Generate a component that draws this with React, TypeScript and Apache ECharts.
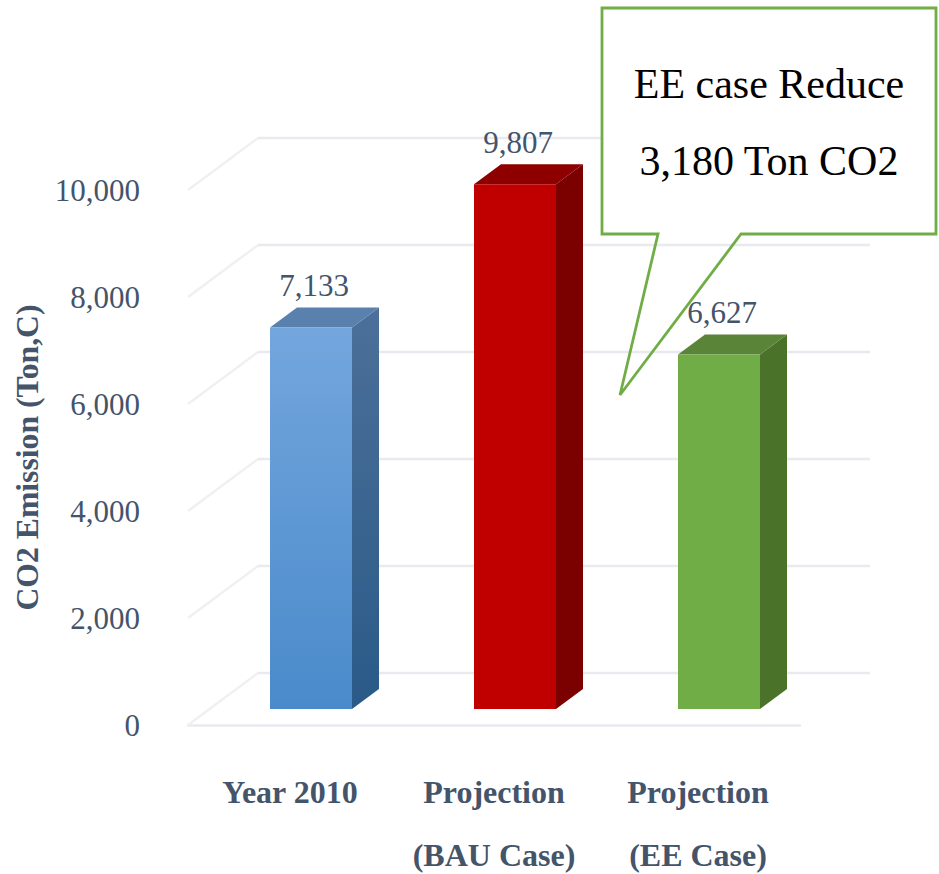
import React, { useEffect, useRef } from "react";
import * as echarts from "echarts";

const categories = ["Year 2010", "Projection\n(BAU Case)", "Projection\n(EE Case)"];
const values = [7133, 9807, 6627];
const ticks = [0, 2000, 4000, 6000, 8000, 10000];
const calloutLines = ["EE case Reduce", "3,180 Ton CO2"];
const yAxisTitle = "CO2 Emission (Ton,C)";

const SERIF = "'Liberation Serif', 'Times New Roman', serif";
const INK = "#44546A";
const GRID_LINE = "#E9EAF0";
const GRID_SLANT = "#F0F0F3";

const palettes = [
  { front: ["#73A6DD", "#4A8ACB"], side: ["#4C7099", "#2A5A88"], top: "#5A80AD" },
  { front: ["#C00000", "#C00000"], side: ["#7B0000", "#7B0000"], top: "#8E0000" },
  { front: ["#70AD47", "#70AD47"], side: ["#4A7329", "#4A7329"], top: "#5A8437" },
];

const wallDx = 70;
const wallDy = -52;
const barInsetDx = 21;
const barInsetDy = -16;
const barDepthDx = 27;
const barDepthDy = -20;
const barWidth = 82;

const vGrad = (c: string[]) =>
  new echarts.graphic.LinearGradient(0, 0, 0, 1, [
    { offset: 0, color: c[0] },
    { offset: 1, color: c[1] },
  ]);

const labelStyle = (lineHeight: number) => ({
  color: INK,
  fontFamily: SERIF,
  fontWeight: "bold" as const,
  fontSize: 32,
  lineHeight,
});

export default function App() {
  const ref = useRef<HTMLDivElement>(null);
  useEffect(() => {
    const chart = echarts.init(ref.current!, undefined, { renderer: "svg" });
    chart.setOption({
      animation: false,
      backgroundColor: "#ffffff",
      grid: { left: 188, width: 612, top: 190, height: 535, containLabel: false, outerBoundsMode: "none" },
      xAxis: {
        type: "category",
        data: categories,
        axisLine: { show: true, lineStyle: { color: GRID_LINE, width: 2.5 } },
        axisTick: { show: false },
        axisLabel: {
          margin: 19,
          verticalAlign: "top",
          interval: 0,
          formatter: (v: string) => {
            const [a, b] = v.split("\n");
            return b ? `{a|${a}}\n{b|${b}}` : `{a|${a}}`;
          },
          rich: { a: labelStyle(96), b: labelStyle(30) },
        },
      },
      yAxis: {
        type: "value",
        min: 0,
        max: 10000,
        interval: 2000,
        name: yAxisTitle,
        nameLocation: "middle",
        nameGap: 139,
        nameTextStyle: { color: INK, fontFamily: SERIF, fontWeight: "bold", fontSize: 31.7 },
        axisLine: { show: false },
        axisTick: { show: false },
        splitLine: { show: false },
        axisLabel: {
          color: INK,
          fontFamily: SERIF,
          fontSize: 31,
          margin: 48,
          padding: [5, 0, 0, 0],
          formatter: (v: number) => v.toLocaleString("en-US"),
        },
      },
      series: [
        {
          type: "custom",
          name: "walls",
          coordinateSystem: "cartesian2d",
          silent: true,
          z: 1,
          data: ticks.map((t) => [0, t]),
          encode: { x: 0, y: 1 },
          renderItem: (params: any, api: any) => {
            const cs = params.coordSys;
            const y = api.coord([0, api.value(1)])[1];
            return {
              type: "group",
              children: [
                {
                  type: "line",
                  shape: { x1: cs.x, y1: y, x2: cs.x + wallDx, y2: y + wallDy },
                  style: { stroke: GRID_SLANT, lineWidth: 2.5 },
                },
                {
                  type: "line",
                  shape: { x1: cs.x + wallDx, y1: y + wallDy, x2: cs.x + cs.width + wallDx, y2: y + wallDy },
                  style: { stroke: GRID_LINE, lineWidth: 2.5 },
                },
              ],
            };
          },
        },
        {
          type: "custom",
          name: "CO2 Emission",
          coordinateSystem: "cartesian2d",
          silent: true,
          z: 2,
          data: values.map((v, i) => [i, v]),
          encode: { x: 0, y: 1 },
          renderItem: (params: any, api: any) => {
            const idx = params.dataIndex;
            const p = palettes[idx];
            const [cx, yTop] = api.coord([idx, api.value(1)]);
            const yBase = api.coord([idx, 0])[1];
            const x0 = cx + barInsetDx - barWidth / 2;
            const x1 = x0 + barWidth;
            const t = yTop + barInsetDy;
            const b = yBase + barInsetDy;
            return {
              type: "group",
              children: [
                {
                  type: "polygon",
                  shape: { points: [[x1, t], [x1 + barDepthDx, t + barDepthDy], [x1 + barDepthDx, b + barDepthDy], [x1, b]] },
                  style: { fill: vGrad(p.side) },
                },
                {
                  type: "polygon",
                  shape: { points: [[x0, t], [x0 + barDepthDx, t + barDepthDy], [x1 + barDepthDx, t + barDepthDy], [x1, t]] },
                  style: { fill: p.top },
                },
                {
                  type: "rect",
                  shape: { x: x0, y: t, width: barWidth, height: b - t },
                  style: { fill: vGrad(p.front) },
                },
                {
                  type: "text",
                  x: x0 + barWidth / 2 + 3,
                  y: t + barDepthDy - 22,
                  style: {
                    text: Number(api.value(1)).toLocaleString("en-US"),
                    fill: INK,
                    font: `31px ${SERIF}`,
                    align: "center",
                    verticalAlign: "middle",
                  },
                },
              ],
            };
          },
        },
      ],
      graphic: [
        {
          type: "rect",
          z: 10,
          shape: { x: 602, y: 8, width: 334, height: 226 },
          style: { fill: "#ffffff" },
        },
        {
          type: "polygon",
          z: 11,
          shape: {
            points: [[602, 8], [936, 8], [936, 234], [741, 234], [620, 395], [658, 234], [602, 234]],
          },
          style: { fill: "none", stroke: "#70AD47", lineWidth: 2.8 },
        },
        {
          type: "text",
          z: 12,
          x: 769,
          y: 84,
          style: { text: calloutLines[0], fill: "#000000", font: `42px ${SERIF}`, align: "center", verticalAlign: "middle" },
        },
        {
          type: "text",
          z: 12,
          x: 769,
          y: 161,
          style: { text: calloutLines[1], fill: "#000000", font: `42px ${SERIF}`, align: "center", verticalAlign: "middle" },
        },
      ],
    });
    return () => chart.dispose();
  }, []);
  return <div ref={ref} style={{ position: "fixed", left: 0, top: 0, width: 939, height: 874 }} />;
}
